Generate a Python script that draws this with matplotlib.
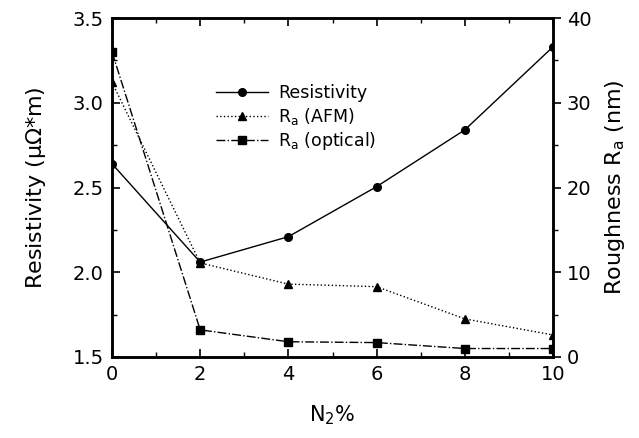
import numpy as np
import matplotlib
matplotlib.use('Agg')
import matplotlib.pyplot as plt
from matplotlib.ticker import MultipleLocator

n2 = [0, 2, 4, 6, 8, 10]
resistivity = [2.64, 2.06, 2.21, 2.505, 2.84, 3.33]  # uOhm*m
ra_afm = [32.4, 11.1, 8.6, 8.3, 4.5, 2.6]  # nm
ra_optical = [36.0, 3.2, 1.8, 1.7, 1.0, 1.0]  # nm

plt.rcParams['font.family'] = ['DejaVu Sans']
plt.rcParams['mathtext.default'] = 'regular'

fig = plt.figure(figsize=(6.39, 4.38), dpi=100)
ax = fig.add_axes([112/639, 1 - 357/438, (553-112)/639, (357-18)/438])
ax2 = ax.twinx()

l1, = ax.plot(n2, resistivity, '-', color='black', lw=1.0, marker='o', ms=5.5, label='Resistivity')
l2, = ax2.plot(n2, ra_afm, ':', color='black', lw=1.0, marker='^', ms=6, label='R$_a$ (AFM)')
l3, = ax2.plot(n2, ra_optical, '-.', color='black', lw=1.0, marker='s', ms=5.5, label='R$_a$ (optical)')

ax.set_xlim(0, 10)
ax.set_ylim(1.5, 3.5)
ax2.set_ylim(0, 40)

ax.xaxis.set_major_locator(MultipleLocator(2))
ax.xaxis.set_minor_locator(MultipleLocator(1))
ax.yaxis.set_major_locator(MultipleLocator(0.5))
ax.yaxis.set_minor_locator(MultipleLocator(0.25))
ax2.yaxis.set_major_locator(MultipleLocator(10))
ax2.yaxis.set_minor_locator(MultipleLocator(5))

ax.tick_params(axis='x', which='both', direction='in', top=True, labelsize=14, pad=6)
ax.tick_params(axis='x', which='major', length=6, width=1.2)
ax.tick_params(axis='x', which='minor', length=3.5, width=1.0)
ax.tick_params(axis='y', which='major', direction='in', length=6, width=1.2, labelsize=14, pad=6)
ax.tick_params(axis='y', which='minor', direction='in', length=3.5, width=1.0)
ax2.tick_params(axis='y', which='major', direction='out', length=6, width=1.2, labelsize=14, pad=4)
ax2.tick_params(axis='y', which='minor', direction='out', length=3.5, width=1.0)

for a in (ax, ax2):
    for s in a.spines.values():
        s.set_linewidth(1.8)

ax.set_xlabel('N$_2$%', fontsize=15, labelpad=14)
ax.set_ylabel('Resistivity ($\\mu\\Omega$*m)', fontsize=16, labelpad=18)
ax2.set_ylabel('Roughness R$_a$ (nm)', fontsize=16, labelpad=8, rotation=90)

ax.legend(handles=[l1, l2, l3], loc='upper left', bbox_to_anchor=(0.2, 0.85),
          frameon=False, fontsize=12.5, handlelength=3.0, handletextpad=0.6,
          labelspacing=0.2)

fig.savefig('out.png', dpi=100)
